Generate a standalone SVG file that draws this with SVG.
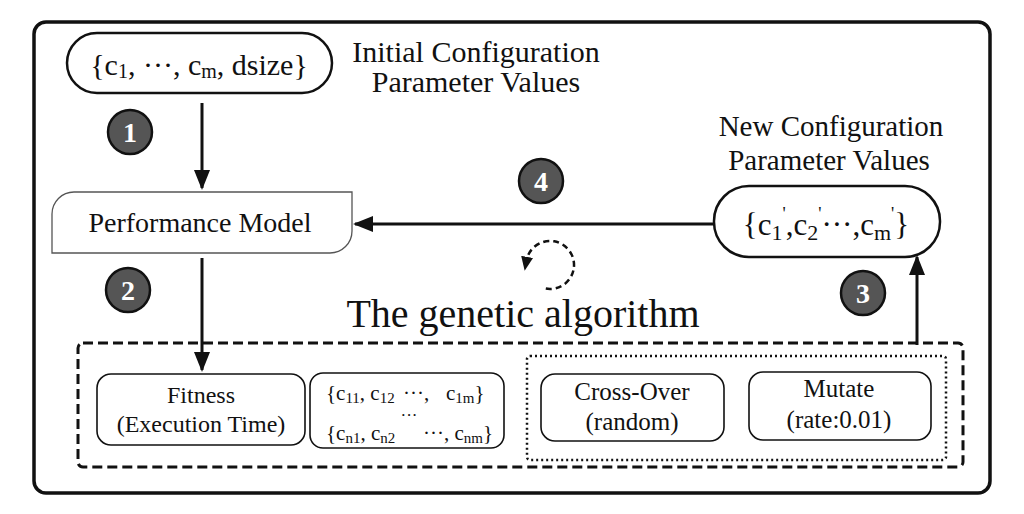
<svg xmlns="http://www.w3.org/2000/svg" width="1024" height="514" viewBox="0 0 1024 514">
<style>
text{font-family:"Liberation Serif","Times New Roman",serif;fill:#111}
.box{fill:#fff;stroke:#111;stroke-width:1.6}
.pill{fill:#fff;stroke:#111;stroke-width:2.5}
.num{fill:#555;stroke:#111;stroke-width:2.5}
.numt{fill:#fff;font-size:28px;font-weight:bold;text-anchor:middle}
.arrow{stroke:#111;stroke-width:3;fill:none}
.c{text-anchor:middle}
</style>
<defs>
<marker id="ah" markerUnits="userSpaceOnUse" markerWidth="20" markerHeight="20" viewBox="0 0 20 20" refX="18" refY="10" orient="auto">
<path d="M0,2 L20,10 L0,18 Z" fill="#111"/>
</marker>
<marker id="ahs" markerUnits="userSpaceOnUse" markerWidth="14" markerHeight="14" viewBox="0 0 14 14" refX="4" refY="7" orient="auto">
<path d="M0,1 L14,7 L0,13 Z" fill="#111"/>
</marker>
</defs>
<rect x="34" y="22" width="956" height="471" rx="12" fill="#fff" stroke="#111" stroke-width="3.5"/>

<g id="initial">
<rect class="pill" x="67" y="33" width="265" height="60" rx="30"/>
<text x="199" y="75" class="c" font-size="30">{c<tspan font-size="20" dy="3">1</tspan><tspan dy="-3">, ···, c</tspan><tspan font-size="20" dy="3">m</tspan><tspan dy="-3">, dsize}</tspan></text>
<text x="476" y="62" class="c" font-size="30">Initial Configuration</text>
<text x="476" y="92" class="c" font-size="30">Parameter Values</text>
</g>

<g id="perfmodel">
<path d="M52,253 L52,214 A22,22 0 0 1 74,192 L352,192 L352,231 A22,22 0 0 1 330,253 Z" fill="#fff" stroke="#555" stroke-width="1.3"/>
<text x="200" y="232" class="c" font-size="28">Performance Model</text>
</g>

<g id="newconfig">
<text x="831" y="136" class="c" font-size="29">New Configuration</text>
<text x="829" y="170" class="c" font-size="29">Parameter Values</text>
<rect class="pill" x="714" y="186" width="226" height="71" rx="35"/>
<text x="826" y="235" class="c" font-size="31">{c<tspan font-size="22" dy="5">1</tspan><tspan font-size="18" dy="-20">'</tspan><tspan dy="15">,c</tspan><tspan font-size="22" dy="5">2</tspan><tspan font-size="18" dy="-20">'</tspan><tspan dy="15">···,c</tspan><tspan font-size="22" dy="5">m</tspan><tspan font-size="18" dy="-20">'</tspan><tspan dy="15">}</tspan></text>
</g>

<g id="steps">
<circle class="num" cx="130" cy="132" r="22"/><text class="numt" x="130" y="142">1</text>
<circle class="num" cx="128" cy="290" r="22"/><text class="numt" x="128" y="300">2</text>
<circle class="num" cx="863" cy="293" r="22"/><text class="numt" x="863" y="303">3</text>
<circle class="num" cx="541" cy="181" r="22"/><text class="numt" x="541" y="191">4</text>
</g>

<g id="ga">
<text x="523" y="327" class="c" font-size="40">The genetic algorithm</text>
<rect x="78" y="343" width="885" height="124" rx="5" fill="none" stroke="#111" stroke-width="3" stroke-dasharray="10 5"/>
<rect x="527" y="356" width="419" height="104" rx="3" fill="none" stroke="#111" stroke-width="2.5" stroke-dasharray="2 3"/>
</g>

<g id="fitness">
<rect class="box" x="97" y="374" width="208" height="71" rx="14"/>
<text x="201" y="403" class="c" font-size="24">Fitness</text>
<text x="201" y="432" class="c" font-size="24">(Execution Time)</text>
</g>

<g id="population">
<rect class="box" x="310" y="373" width="194" height="75" rx="13"/>
<text y="400" font-size="21"><tspan x="326">{c</tspan><tspan font-size="15" dy="3">11</tspan><tspan dy="-3">, c</tspan><tspan font-size="15" dy="3">12</tspan><tspan x="403" dy="-3">···,</tspan><tspan x="446">c</tspan><tspan font-size="15" dy="3">1m</tspan><tspan dy="-3">}</tspan></text>
<text x="409" y="421" class="c" font-size="17">···</text>
<text y="440" font-size="21"><tspan x="326">{c</tspan><tspan font-size="15" dy="3">n1</tspan><tspan dy="-3">, c</tspan><tspan font-size="15" dy="3">n2</tspan><tspan x="423" dy="-3">···, c</tspan><tspan font-size="15" dy="3">nm</tspan><tspan dy="-3">}</tspan></text>
</g>

<g id="crossover">
<rect class="box" x="541" y="374" width="183" height="67" rx="14"/>
<text x="632" y="400" class="c" font-size="25">Cross-Over</text>
<text x="632" y="430" class="c" font-size="25">(random)</text>
</g>

<g id="mutate">
<rect class="box" x="749" y="372" width="182" height="68" rx="14"/>
<text x="839" y="397" class="c" font-size="25">Mutate</text>
<text x="839" y="428" class="c" font-size="25">(rate:0.01)</text>
</g>

<g id="connectors">
<line class="arrow" x1="202" y1="103" x2="202" y2="188" marker-end="url(#ah)"/>
<line class="arrow" x1="202" y1="258" x2="202" y2="370" marker-end="url(#ah)"/>
<line class="arrow" x1="917" y1="345" x2="917" y2="257" marker-end="url(#ah)"/>
<line class="arrow" x1="714" y1="224" x2="355" y2="224" marker-end="url(#ah)"/>
<path d="M545.8,288.6 A24,24 0 1 0 526.4,260.8" fill="none" stroke="#111" stroke-width="2.5" stroke-dasharray="6 4" marker-end="url(#ahs)"/>
</g>
</svg>
